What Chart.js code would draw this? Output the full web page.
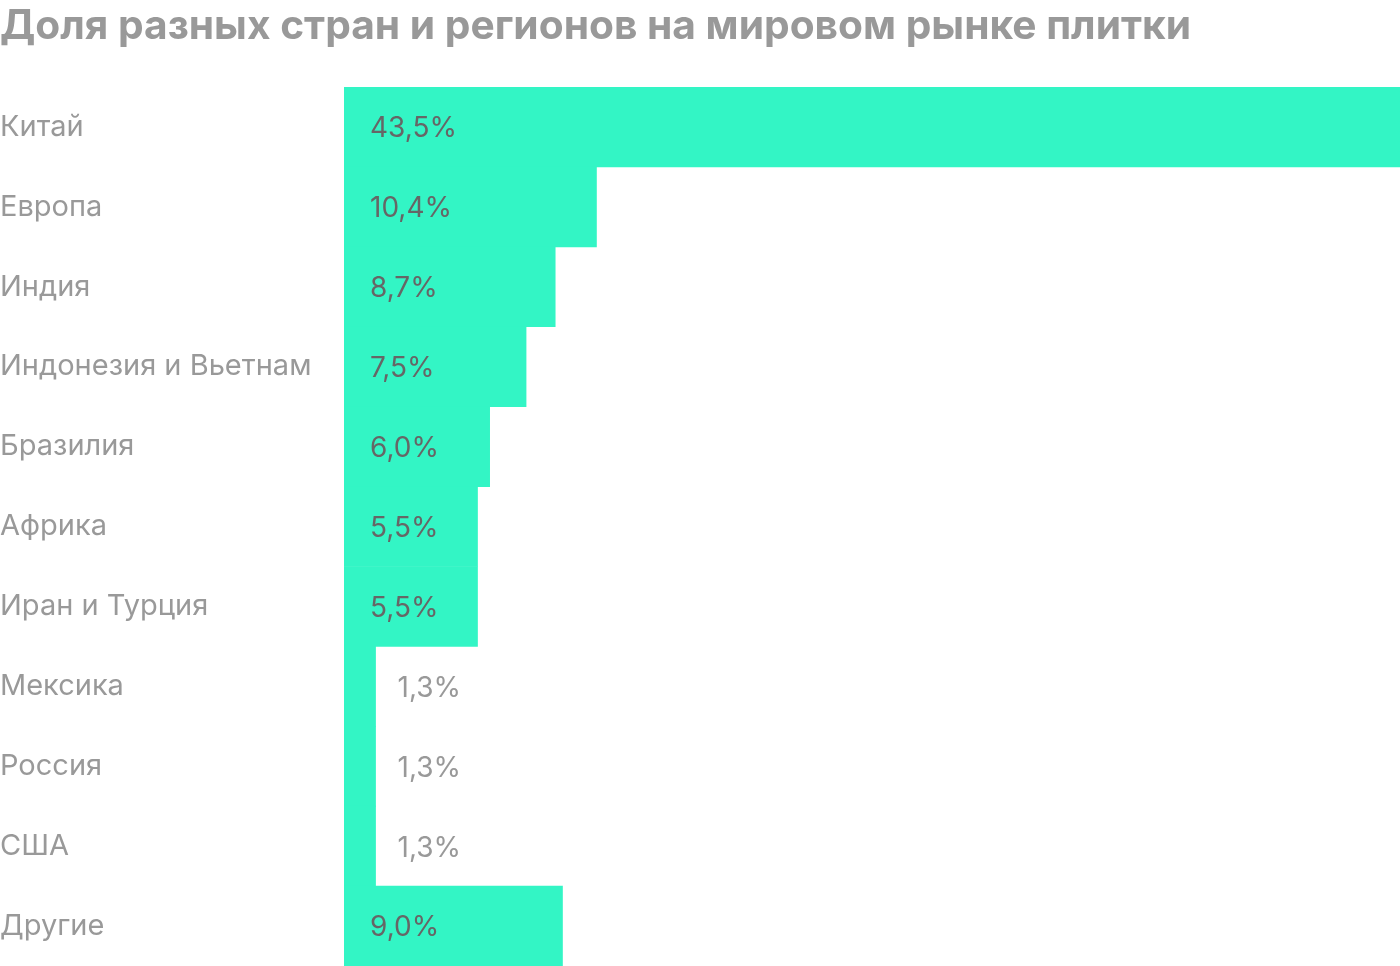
<!DOCTYPE html>
<html>
<head>
<meta charset="utf-8">
<script src="https://cdn.jsdelivr.net/npm/chart.js@4"></script>
<style>
  html, body { margin: 0; padding: 0; background: #fff; }
  #wrap { width: 1400px; height: 966px; }
</style>
</head>
<body>
<div id="wrap"><canvas id="tileChart"></canvas></div>
<script>
var chartTitle = "Доля разных стран и регионов на мировом рынке плитки";
var regions = ["Китай", "Европа", "Индия", "Индонезия и Вьетнам", "Бразилия", "Африка",
               "Иран и Турция", "Мексика", "Россия", "США", "Другие"];
var shares = [43.5, 10.4, 8.7, 7.5, 6.0, 5.5, 5.5, 1.3, 1.3, 1.3, 9.0];

var barColor = "#33f5c5";
var fontFamily = "Inter, Roboto, 'Noto Sans', sans-serif";

// подписи значений: внутри столбца или справа от короткого
var valueLabels = {
    id: "valueLabels",
    afterDatasetsDraw: function (chart) {
        var ctx = chart.ctx;
        var meta = chart.getDatasetMeta(0);
        ctx.save();
        ctx.font = "28px " + fontFamily;
        ctx.textBaseline = "middle";
        ctx.textAlign = "left";
        meta.data.forEach(function (bar, i) {
            var v = shares[i];
            var text = v.toFixed(1).replace(".", ",") + "%";
            if (v >= 3) {
                ctx.fillStyle = "#666666";
                ctx.fillText(text, bar.base + 26, bar.y + 2);
            } else {
                ctx.fillStyle = "#999999";
                ctx.fillText(text, bar.x + 22, bar.y + 2);
            }
        });
        ctx.restore();
    }
};

new Chart(document.getElementById("tileChart"), {
    type: "bar",
    data: {
        labels: regions,
        datasets: [{
            data: shares,
            backgroundColor: barColor,
            borderWidth: 0,
            categoryPercentage: 1.0,
            barPercentage: 1.0
        }]
    },
    options: {
        indexAxis: "y",
        responsive: true,
        maintainAspectRatio: false,
        animation: false,
        layout: { padding: 0 },
        plugins: {
            legend: { display: false },
            tooltip: { enabled: false },
            title: {
                display: true,
                text: chartTitle,
                align: "start",
                color: "#999999",
                font: { family: fontFamily, size: 40.7, weight: "bold", lineHeight: 1.2 },
                padding: { top: 2, bottom: 36.2 }
            }
        },
        scales: {
            x: {
                display: false,
                min: 0,
                max: 43.5
            },
            y: {
                grid: { display: false, drawTicks: false },
                border: { display: false },
                ticks: {
                    crossAlign: "far",
                    padding: 0,
                    color: "#999999",
                    font: { family: fontFamily, size: 29 }
                },
                afterFit: function (scale) {
                    scale.width = 344;
                    scale.paddingTop = 0;
                    scale.paddingBottom = 0;
                }
            }
        }
    },
    plugins: [valueLabels]
});
</script>
</body>
</html>
